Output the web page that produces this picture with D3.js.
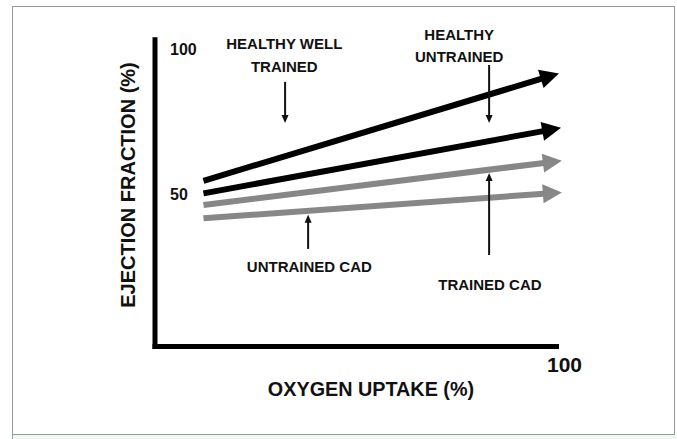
<!DOCTYPE html>
<html>
<head>
<meta charset="utf-8">
<script src="https://cdn.jsdelivr.net/npm/d3@7"></script>
<style>
  body { margin: 0; background: #fff; }
  svg text { font-family: "Liberation Sans", Arial, sans-serif; font-weight: bold; fill: #111; }
</style>
</head>
<body>
<div class="chart"></div>
<script>
// chart data (oxygen uptake % -> ejection fraction %)
var series = ["Healthy well trained", "Healthy untrained", "Trained CAD", "Untrained CAD"]
var uptakeStart = [12, 12, 12, 12]
var uptakeEnd = [100, 100.5, 100.7, 100.7]
var efStart = [54.7, 50.4, 46.4, 41.8]
var efEnd = [91.6, 72.9, 61.6, 50.7]
var yTicks = [50, 100]
var xTicks = [100]

// annotation labels, arrows given in data units
var labelLines = [["HEALTHY WELL", "TRAINED"], ["HEALTHY", "UNTRAINED"], ["TRAINED CAD"], ["UNTRAINED CAD"]]
var labelX = [32, 75.3, 82.9, 38.2]
var labelY = [[100, 92.1], [103.1, 95.5], [17.2], [23.4]]
var arrowX = [32.2, 82.7, 82.7, 37.9]
var arrowFrom = [88.7, 94.5, 29.2, 31.3]
var arrowTo = [74.6, 74.6, 57.4, 43]

var width = 677
    height = 439

var svg = d3.select(".chart")
  .append("svg")
    .attr("width", width)
    .attr("height", height)

// frame around the figure
svg.append("rect")
  .attr("x", 12.5).attr("y", 435)
  .attr("width", width - 12.5).attr("height", 4)
  .attr("fill", "#f1f8f1")
svg.append("rect")
  .attr("x", 12.5).attr("y", 6.5)
  .attr("width", 662).attr("height", 428)
  .attr("fill", "none")
  .attr("stroke", "#999")
svg.append("line")
  .attr("x1", 12.5).attr("x2", 12.5).attr("y1", 434).attr("y2", 439)
  .attr("stroke", "#999")

var x = d3.scaleLinear().domain([0, 100]).range([155, 559])
var y = d3.scaleLinear().domain([0, 100]).range([340, 49])

// axis lines
svg.append("line")
  .attr("x1", x(0)).attr("x2", x(0))
  .attr("y1", y(104)).attr("y2", 349)
  .attr("stroke", "#000").attr("stroke-width", 5)
svg.append("line")
  .attr("x1", x(0) - 2.5).attr("x2", x(100))
  .attr("y1", 346.5).attr("y2", 346.5)
  .attr("stroke", "#000").attr("stroke-width", 5)

// tick labels
var yAxis = svg.append("g")
  .attr("transform", "translate(" + x(0) + ",0)")
  .call(d3.axisRight(y).tickValues(yTicks).tickSize(0).tickPadding(15))
yAxis.select(".domain").remove()
yAxis.selectAll("text").style("font-size", "16px").attr("fill", "#111")

var xAxis = svg.append("g")
  .attr("transform", "translate(0,357)")
  .call(d3.axisBottom(x).tickValues(xTicks).tickSize(0).tickPadding(0))
xAxis.select(".domain").remove()
xAxis.selectAll("text").style("font-size", "21px").attr("fill", "#111").attr("dx", 5)

// axis titles
svg.append("text")
  .attr("x", 371).attr("y", 396)
  .attr("text-anchor", "middle")
  .style("font-size", "19.8px")
  .text("OXYGEN UPTAKE (%)")
svg.append("text")
  .attr("transform", "translate(134.5,185) rotate(-90)")
  .attr("text-anchor", "middle")
  .style("font-size", "20px")
  .text("EJECTION FRACTION (%)")

// the four trend arrows
var colors = ["#000", "#000", "#878787", "#878787"]
var headLen = 19, headHalf = 9.5

series.forEach(function(s, i) {
  var x0 = x(uptakeStart[i]), y0 = y(efStart[i])
  var x1 = x(uptakeEnd[i]), y1 = y(efEnd[i])
  var a = Math.atan2(y1 - y0, x1 - x0)
  var bx = x1 - headLen * Math.cos(a), by = y1 - headLen * Math.sin(a)
  svg.append("line")
    .attr("x1", x0).attr("y1", y0)
    .attr("x2", bx + Math.cos(a)).attr("y2", by + Math.sin(a))
    .attr("stroke", colors[i]).attr("stroke-width", 6)
  var px = -Math.sin(a) * headHalf, py = Math.cos(a) * headHalf
  svg.append("path")
    .attr("d", "M" + x1 + "," + y1 + "L" + (bx + px) + "," + (by + py) + "L" + (bx - px) + "," + (by - py) + "Z")
    .attr("fill", colors[i])
})

// annotation arrows and labels
series.forEach(function(s, i) {
  var ax = x(arrowX[i]), ya = y(arrowFrom[i]), yb = y(arrowTo[i])
  var dir = yb > ya ? 1 : -1
  svg.append("line")
    .attr("x1", ax).attr("x2", ax)
    .attr("y1", ya).attr("y2", yb - dir * 6)
    .attr("stroke", "#111").attr("stroke-width", 2)
  svg.append("path")
    .attr("d", "M" + ax + "," + yb + "L" + (ax - 3.5) + "," + (yb - dir * 8) + "L" + (ax + 3.5) + "," + (yb - dir * 8) + "Z")
    .attr("fill", "#111")

  labelLines[i].forEach(function(t, j) {
    svg.append("text")
      .attr("x", x(labelX[i])).attr("y", y(labelY[i][j]))
      .attr("text-anchor", "middle")
      .style("font-size", "15px")
      .text(t)
  })
})
</script>
</body>
</html>
